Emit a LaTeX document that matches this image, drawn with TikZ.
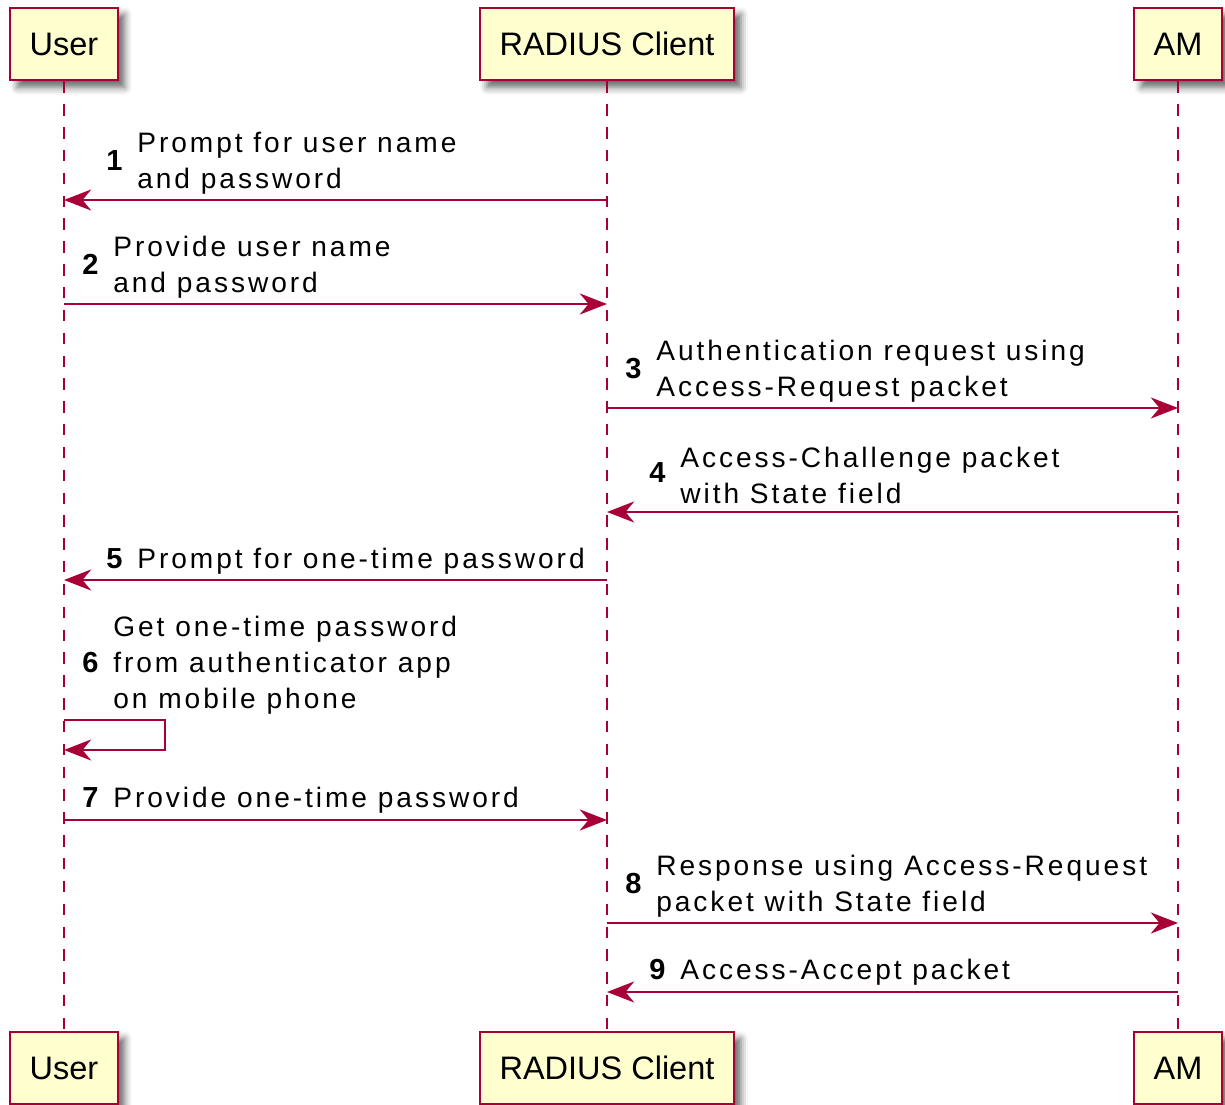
\documentclass[tikz,border=0pt]{standalone}
\usepackage{fontspec}
\setmainfont{Liberation Sans}
\newfontfamily\msgfont[LetterSpace=10.5]{Liberation Sans}
\usetikzlibrary{arrows.meta,positioning,shadows.blur}

\definecolor{umlred}{HTML}{A80036}
\definecolor{umlfill}{HTML}{FEFECE}

\tikzset{
  actor/.style={draw=umlred,fill=umlfill,line width=1.1pt,minimum height=41.5pt,
    inner xsep=11pt,font=\fontsize{18.5}{22}\selectfont,
    blur shadow={shadow xshift=4pt,shadow yshift=-4pt,shadow blur radius=4pt,shadow opacity=60}},
  lifeline/.style={umlred,line width=1.1pt,dash pattern=on 6.5pt off 6.5pt},
  msg/.style={umlred,line width=1.15pt,-{Stealth[length=15.5pt,width=12pt,inset=5pt]}},
  msgtext/.style={inner sep=0pt,align=left,anchor=west,font=\msgfont\fontsize{16}{20.5}\selectfont},
  msgnum/.style={inner sep=0pt,yshift=1.3pt,font=\msgfont\bfseries\fontsize{16.5}{20.5}\selectfont}
}

\begin{document}
\begin{tikzpicture}[x=0.02cm,y=-0.02cm]

\useasboundingbox (0,0) rectangle (1225,1105);

\node[actor] (userTop) at (64,44) {User};
\node[actor] (radTop) at (607,44) {RADIUS Client};
\node[actor] (amTop) at (1178,44) {AM};

\node[actor] (userBot) at (64,1068) {User};
\node[actor] (radBot) at (607,1068) {RADIUS Client};
\node[actor] (amBot) at (1178,1068) {AM};

\draw[lifeline] (userTop) -- (userBot);
\draw[lifeline] (radTop) -- (radBot);
\draw[lifeline] (amTop) -- (amBot);

\foreach \i/\y in {1/200,2/304,3/408,4/512,5/580,6/720,7/820,8/923,9/992} {
  \coordinate (u\i) at (64,\y);
  \coordinate (r\i) at (607,\y);
  \coordinate (a\i) at (1178,\y);
}
\coordinate (u6b) at (64,750);

\draw[msg] (r1) -- (u1);
\draw[msg] (u2) -- (r2);
\draw[msg] (r3) -- (a3);
\draw[msg] (a4) -- (r4);
\draw[msg] (r5) -- (u5);
\draw[msg] (u6) -- ++(101,0) |- (u6b);
\draw[msg] (u7) -- (r7);
\draw[msg] (r8) -- (a8);
\draw[msg] (a9) -- (r9);

\node[msgtext] (t1) at (137,163) {Prompt for user name\\and password};
\node[msgnum,left=8pt of t1] (n1) {1};

\node[msgtext] (t2) at (113,267) {Provide user name\\and password};
\node[msgnum,left=8pt of t2] (n2) {2};

\node[msgtext] (t3) at (656,371) {Authentication request using\\Access-Request packet};
\node[msgnum,left=8pt of t3] (n3) {3};

\node[msgtext] (t4) at (680,475) {Access-Challenge packet\\with State field};
\node[msgnum,left=8pt of t4] (n4) {4};

\node[msgtext] (t5) at (137,561) {Prompt for one-time password};
\node[msgnum,left=8pt of t5] (n5) {5};

\node[msgtext] (t6) at (113,665) {Get one-time password\\from authenticator app\\on mobile phone};
\node[msgnum,left=8pt of t6] (n6) {6};

\node[msgtext] (t7) at (113,800) {Provide one-time password};
\node[msgnum,left=8pt of t7] (n7) {7};

\node[msgtext] (t8) at (656,886) {Response using Access-Request\\packet with State field};
\node[msgnum,left=8pt of t8] (n8) {8};

\node[msgtext] (t9) at (680,972) {Access-Accept packet};
\node[msgnum,left=8pt of t9] (n9) {9};

\end{tikzpicture}
\end{document}
